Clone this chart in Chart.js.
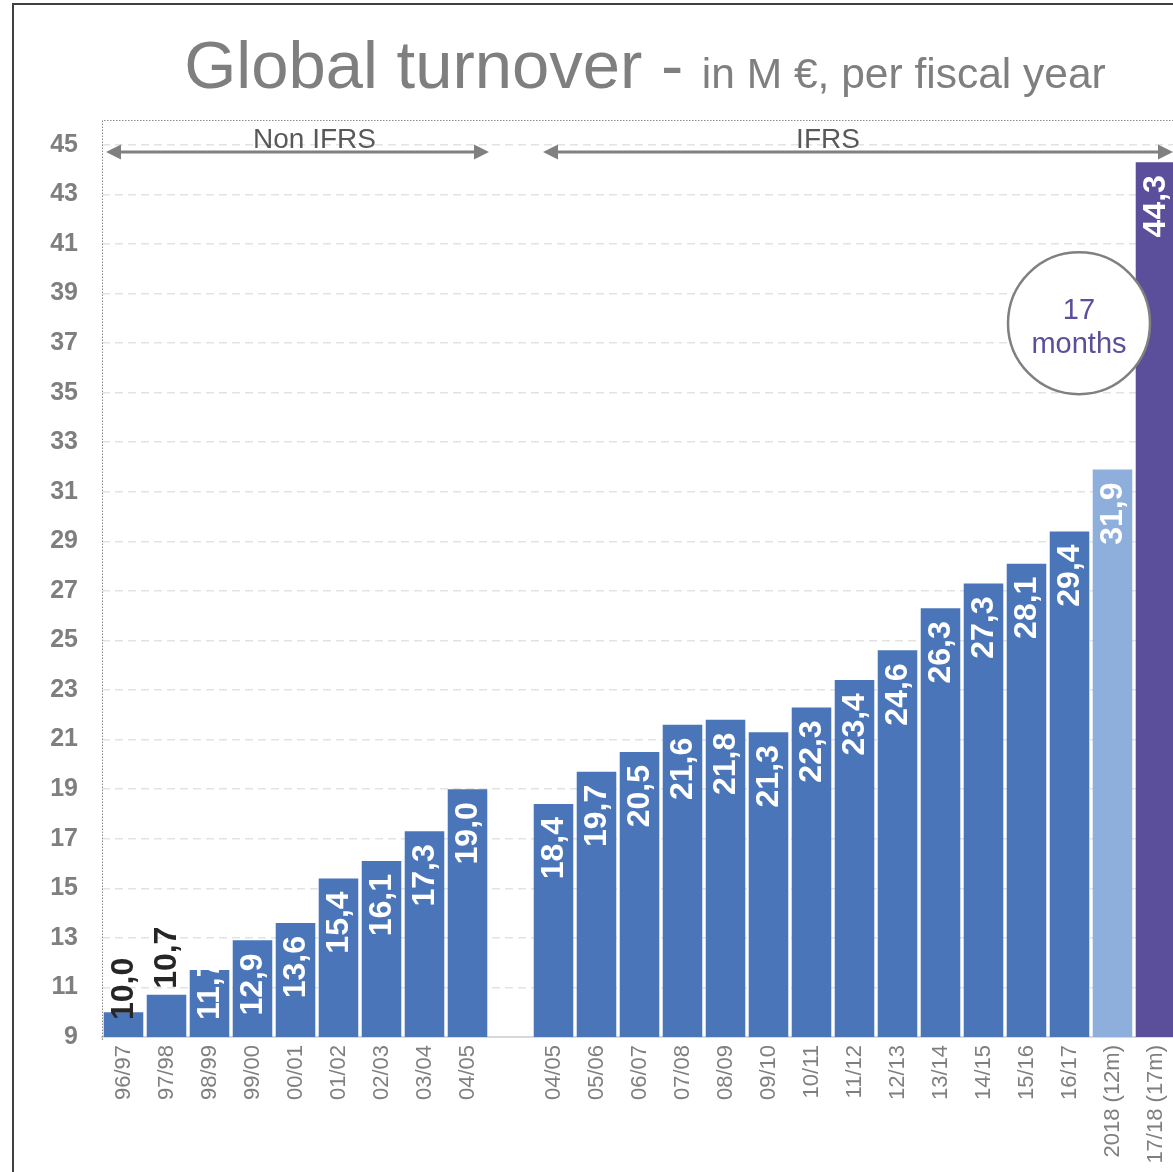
<!DOCTYPE html>
<html>
<head>
<meta charset="utf-8">
<script src="https://cdn.jsdelivr.net/npm/chart.js@4.4.1/dist/chart.umd.min.js"></script>
<style>
html,body{margin:0;padding:0;overflow:hidden;background:#fff;width:1173px;height:1172px;}
#wrap{position:relative;width:1173px;height:1172px;overflow:hidden;}
#frame{position:absolute;left:12px;top:3px;width:1300px;height:1300px;border-left:2px solid #404040;border-top:2px solid #404040;}
#c{position:absolute;left:0;top:0;}
</style>
</head>
<body>
<div id="wrap"><div id="frame"></div><canvas id="c" width="1177" height="1172"></canvas></div>
<script>
// ---- data ----
const categories = ['96/97','97/98','98/99','99/00','00/01','01/02','02/03','03/04','04/05','',
  '04/05','05/06','06/07','07/08','08/09','09/10','10/11','11/12','12/13','13/14','14/15','15/16','16/17',
  '2018 (12m)','17/18 (17m)'];
const turnover = [10.0,10.7,11.7,12.9,13.6,15.4,16.1,17.3,19.0,null,
  18.4,19.7,20.5,21.6,21.8,21.3,22.3,23.4,24.6,26.3,27.3,28.1,29.4,
  31.9,44.3];
const yTicks = [9,11,13,15,17,19,21,23,25,27,29,31,33,35,37,39,41,43,45];
const yMin = 9, yMax = 46;
const titleMain = 'Global turnover - ';
const titleSub = 'in M \u20AC, per fiscal year';
const periods = [
  {label:'Non IFRS', from:0, to:8},
  {label:'IFRS', from:10, to:24}
];
const noteLines = ['17','months'];

// ---- styles ----
const FONT = '"Liberation Sans", Arial, Helvetica, sans-serif';
const BLUE = '#4A76B9', LIGHT = '#8EAEDB', PURPLE = '#5B4E9A', GRAY = '#7F7F7F';
const barColors = categories.map((c,i)=> i===categories.length-1 ? PURPLE : (i===categories.length-2 ? LIGHT : BLUE));
const labelColors = categories.map((c,i)=> i<2 ? '#262626' : '#FFFFFF');
const labelOutside = categories.map((c,i)=> i===1);

const fmt = v => v.toFixed(1).replace('.', ',');

const labelPlugin = {
  id:'barLabels',
  afterDatasetsDraw(chart){
    const ctx = chart.ctx;
    const meta = chart.getDatasetMeta(0);
    const base = chart.scales.y.getPixelForValue(yMin);
    ctx.save();
    ctx.font = 'bold 32px ' + FONT;
    meta.data.forEach((bar,i)=>{
      const v = turnover[i];
      if (v == null) return;
      const txt = fmt(v);
      const w = ctx.measureText(txt).width;
      let bottom;
      if (labelOutside[i]) bottom = bar.y - 6;
      else bottom = Math.min(bar.y + 13 + w, base - 17);
      ctx.save();
      ctx.translate(bar.x + 1, bottom);
      ctx.rotate(-Math.PI/2);
      ctx.fillStyle = labelColors[i];
      ctx.textAlign = 'left';
      ctx.textBaseline = 'middle';
      ctx.fillText(txt, 0, 0);
      ctx.restore();
    });
    ctx.restore();
  }
};

function arrowHead(ctx, x, y, dir){
  ctx.beginPath();
  ctx.moveTo(x, y);
  ctx.lineTo(x - dir*15, y - 7.5);
  ctx.lineTo(x - dir*15, y + 7.5);
  ctx.closePath();
  ctx.fill();
}

const decoPlugin = {
  id:'deco',
  afterDraw(chart){
    const ctx = chart.ctx, ca = chart.chartArea;
    const xs = chart.scales.x, ys = chart.scales.y;
    const half = (xs.getPixelForValue(1) - xs.getPixelForValue(0))/2;
    ctx.save();
    // dotted plot border (left + top)
    ctx.strokeStyle = '#8a8a8a';
    ctx.lineWidth = 1;
    ctx.setLineDash([1.5,1.5]);
    ctx.beginPath();
    ctx.moveTo(ca.left+0.5, ca.bottom+3);
    ctx.lineTo(ca.left+0.5, ca.top+0.5);
    ctx.lineTo(ca.right, ca.top+0.5);
    ctx.stroke();
    ctx.setLineDash([]);

    // title
    ctx.fillStyle = GRAY;
    ctx.textBaseline = 'alphabetic';
    ctx.textAlign = 'left';
    ctx.font = '67px ' + FONT;
    const w1 = ctx.measureText(titleMain).width;
    ctx.font = '42.5px ' + FONT;
    const w2 = ctx.measureText(titleSub).width;
    const sx = 645 - (w1 + w2)/2;
    ctx.font = '67px ' + FONT;
    ctx.fillText(titleMain, sx, 88);
    ctx.font = '42.5px ' + FONT;
    ctx.fillText(titleSub, sx + w1, 88);

    // period arrows
    const ay = ca.top + 32;
    periods.forEach((p, k)=>{
      const x1 = xs.getPixelForValue(p.from) - half + (k===0 ? 4 : 11);
      const x2 = Math.min(xs.getPixelForValue(p.to) + half, ca.right - 4);
      ctx.strokeStyle = '#808080';
      ctx.fillStyle = '#808080';
      ctx.lineWidth = 3;
      ctx.beginPath();
      ctx.moveTo(x1 + 10, ay);
      ctx.lineTo(x2 - 10, ay);
      ctx.stroke();
      arrowHead(ctx, x1, ay, -1);
      arrowHead(ctx, x2, ay, 1);
      ctx.fillStyle = '#595959';
      ctx.font = '28px ' + FONT;
      ctx.textAlign = 'center';
      ctx.textBaseline = 'alphabetic';
      const cx = (x1 + x2)/2 + (k===0 ? 17 : -30);
      ctx.fillText(p.label, cx, ay - 4);
    });

    // note circle
    const ccx = ca.right - 98, ccy = ys.getPixelForValue(37.8);
    ctx.beginPath();
    ctx.arc(ccx, ccy, 71, 0, Math.PI*2);
    ctx.fillStyle = '#FFFFFF';
    ctx.fill();
    ctx.lineWidth = 2.5;
    ctx.strokeStyle = '#808080';
    ctx.stroke();
    ctx.fillStyle = PURPLE;
    ctx.font = '29px ' + FONT;
    ctx.textAlign = 'center';
    ctx.textBaseline = 'alphabetic';
    ctx.fillText(noteLines[0], ccx, ccy - 4);
    ctx.fillText(noteLines[1], ccx, ccy + 30);
    ctx.restore();
  }
};

new Chart(document.getElementById('c'), {
  type:'bar',
  data:{
    labels: categories,
    datasets:[{
      data: turnover,
      backgroundColor: barColors,
      borderWidth: 0,
      barPercentage: 0.92,
      categoryPercentage: 1.0
    }]
  },
  options:{
    responsive:false,
    animation:false,
    events:[],
    layout:{padding:{top:120,left:0,right:0,bottom:0}},
    plugins:{legend:{display:false}, tooltip:{enabled:false}, title:{display:false}},
    scales:{
      x:{
        grid:{display:false, drawTicks:false},
        border:{display:true, color:'#D9D9D9', width:2},
        ticks:{
          autoSkip:false, minRotation:90, maxRotation:90, padding:8,
          color:GRAY, font:{family:FONT, size:22}
        },
        afterFit(s){ s.height = 135; s.paddingLeft = 0; s.paddingRight = 0; }
      },
      y:{
        min:yMin, max:yMax,
        afterBuildTicks(s){ s.ticks = yTicks.map(v=>({value:v})); },
        grid:{color:'#E3E3E3', lineWidth:1.5, drawTicks:false},
        border:{display:false, dash:[8,5]},
        ticks:{
          padding:24, color:GRAY, font:{family:FONT, size:25, weight:'bold'}
        },
        afterFit(s){ s.width = 102; s.paddingTop = 0; s.paddingBottom = 0; }
      }
    }
  },
  plugins:[labelPlugin, decoPlugin]
});
</script>
</body>
</html>
